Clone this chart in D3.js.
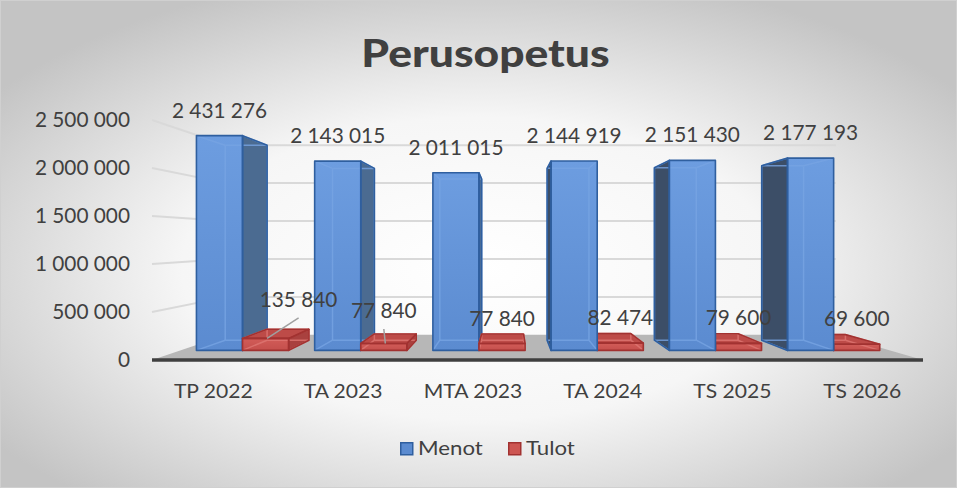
<!DOCTYPE html>
<html><head><meta charset="utf-8">
<script src="https://cdn.jsdelivr.net/npm/d3@7"></script>
<style>body{margin:0;background:#fff;} svg{display:block}</style>
</head><body><svg id="c" width="957" height="488"></svg>
<script>
// ---- data ----
const categories = ["TP 2022", "TA 2023", "MTA 2023", "TA 2024", "TS 2025", "TS 2026"];
const menot = [2431276, 2143015, 2011015, 2144919, 2151430, 2177193];
const tulot = [135840, 77840, 77840, 82474, 79600, 69600];
const seriesNames = ["Menot", "Tulot"];
const yTicks = [0, 500000, 1000000, 1500000, 2000000, 2500000];
const chartTitle = "Perusopetus";

// ---- layout ----
const W = 957, H = 488;
const FONT = "Lato, 'Open Sans', sans-serif";
const TXT = "#404040";
const floorL = 152, floorR = 923, baseY = 360, vx = 508, vy = 240;
const sBarF = 0.92, sBarB = 0.835, sWall = 0.79, sLabel = 1.01;

const svg = d3.select("#c");
const fmt = d3.formatLocale({decimal: ",", thousands: "\u00a0", grouping: [3], currency: ["", ""]}).format(",d");

const x = d3.scaleBand().domain(categories).range([floorL, floorR]);
const h = d3.scaleLinear().domain([0, 2500000]).range([0, 240]);
const yFront = d3.scaleLinear().domain([0, 2500000]).range([baseY, baseY - 240]);
function P(wx, v, s) { return [vx + (wx - vx) * s, vy + (baseY - h(v) - vy) * s]; }
const line = d3.line();
// widen letter text slightly (reference face is wider than Lato)
function widen(sel, k) {
  sel.each(function () {
    const L = this.getComputedTextLength();
    d3.select(this).attr("textLength", L * k).attr("lengthAdjust", "spacingAndGlyphs");
  });
}

// ---- background ----
const defs = svg.append("defs");
const rg = defs.append("radialGradient").attr("id", "bg").attr("cx", "50%").attr("cy", "55%").attr("r", "62%");
rg.append("stop").attr("offset", "0%").attr("stop-color", "#ffffff");
rg.append("stop").attr("offset", "50%").attr("stop-color", "#f6f6f6");
rg.append("stop").attr("offset", "100%").attr("stop-color", "#c4c4c4");
const bluG = defs.append("linearGradient").attr("id", "blueF").attr("x1", 0).attr("y1", 0).attr("x2", 0).attr("y2", 1);
bluG.append("stop").attr("offset", "0%").attr("stop-color", "#6d9de0");
bluG.append("stop").attr("offset", "100%").attr("stop-color", "#5b8bd0");
const redG = defs.append("linearGradient").attr("id", "redF").attr("x1", 0).attr("y1", 0).attr("x2", 0).attr("y2", 1);
redG.append("stop").attr("offset", "0%").attr("stop-color", "#d25c58");
redG.append("stop").attr("offset", "100%").attr("stop-color", "#c44f4c");

svg.append("rect").attr("width", W).attr("height", H).attr("fill", "url(#bg)");
svg.append("rect").attr("x", 0.5).attr("y", 0.5).attr("width", W - 1).attr("height", H - 1)
  .attr("fill", "none").attr("stroke", "#d0d0d0");

// ---- title ----
svg.append("text").attr("x", 485.5).attr("y", 67).attr("text-anchor", "middle")
  .attr("font-family", FONT).attr("font-weight", 900).attr("font-size", 37)
  .attr("fill", TXT).text(chartTitle).call(widen, 1.2);

// ---- walls / gridlines ----
const grid = svg.append("g").attr("stroke", "#d9d9d9").attr("stroke-width", 2).attr("fill", "none");
yTicks.filter(t => t > 0).forEach(t => {
  const fl = [floorL, yFront(t)], bl = P(floorL, t, sWall), br = P(floorR, t, sWall);
  grid.append("path").attr("d", line([fl, bl, br]));
});

// floor
svg.append("path").attr("fill", "#b7b7b7")
  .attr("d", line([P(floorL, 0, 1), P(floorR, 0, 1), P(floorR, 0, sWall), P(floorL, 0, sWall)]) + "Z");
svg.append("line").attr("x1", floorL).attr("x2", floorR).attr("y1", baseY).attr("y2", baseY)
  .attr("stroke", "#3f3f3f").attr("stroke-width", 3.5);

// ---- axis ----
const ax = svg.append("g").attr("transform", "translate(130,0)")
  .call(d3.axisLeft(yFront).tickValues(yTicks).tickSize(0).tickPadding(0).tickFormat(fmt));
ax.select(".domain").remove();
ax.selectAll("text").attr("font-family", FONT).attr("font-size", 20.8).attr("fill", TXT);

// ---- bars ----
const bw = x.bandwidth() * 0.39, off = x.bandwidth() * 0.135;
const styles = [
  {front: "url(#blueF)", right: "#4b6b91", left: "#3c4e67", top: "#5f8ed0", stroke: "#2f5f9f", inner: "#77a4e2"},
  {front: "url(#redF)", right: "#a9413f", left: "#9c3b39", top: "#bd4b48", stroke: "#a23231", inner: "#de7773"}
];
const boxes = [];
categories.forEach((c, i) => {
  [menot[i], tulot[i]].forEach((v, si) => {
    const x0 = x(c) + off + si * bw;
    boxes.push({i, si, v, x0, x1: x0 + bw});
  });
});
boxes.sort((a, b) => Math.abs((b.x0 + b.x1) / 2 - vx) - Math.abs((a.x0 + a.x1) / 2 - vx));

const barsG = svg.append("g");
boxes.forEach(b => {
  const st = styles[b.si];
  const fbl = P(b.x0, 0, sBarF), fbr = P(b.x1, 0, sBarF), ftl = P(b.x0, b.v, sBarF), ftr = P(b.x1, b.v, sBarF);
  const bbl = P(b.x0, 0, sBarB), bbr = P(b.x1, 0, sBarB), btl = P(b.x0, b.v, sBarB), btr = P(b.x1, b.v, sBarB);
  const g = barsG.append("g");
  const faces = [];
  if (b.x1 < vx) faces.push({pts: [fbr, ftr, btr, bbr], fill: st.right});
  if (b.x0 > vx) faces.push({pts: [fbl, ftl, btl, bbl], fill: st.left});
  if (baseY - h(b.v) > vy) faces.push({pts: [ftl, ftr, btr, btl], fill: st.top});
  const front = {pts: [fbl, fbr, ftr, ftl], fill: st.front};
  faces.forEach(f => g.append("path").attr("d", line(f.pts) + "Z").attr("fill", f.fill));
  g.append("path").attr("d", line(front.pts) + "Z").attr("fill", front.fill);
  // hidden edges seen through the translucent box
  const edges = [[bbl, bbr], [bbr, btr], [btr, btl], [btl, bbl], [fbl, bbl], [fbr, bbr], [ftl, btl], [ftr, btr]];
  edges.forEach(e => g.append("path").attr("d", line(e)).attr("stroke", st.inner)
    .attr("stroke-width", 1.5).attr("fill", "none").attr("opacity", 0.8));
  faces.concat([front]).forEach(f => g.append("path").attr("d", line(f.pts) + "Z").attr("fill", "none")
    .attr("stroke", st.stroke).attr("stroke-width", 1.6).attr("stroke-linejoin", "round"));
  b.cx = (fbl[0] + fbr[0]) / 2; b.top = ftl[1];
});

// ---- data labels ----
const nudges = {"0-1": [33, -13.5], "1-1": [0, -7.5]};
const lab = svg.append("g").attr("font-family", FONT).attr("font-size", 20.8).attr("fill", TXT).attr("text-anchor", "middle");
boxes.forEach(b => {
  const n = nudges[b.i + "-" + b.si] || [0, 0];
  const lx = b.cx + n[0], ly = b.top - 18 + n[1];
  if (n[0] || n[1]) {
    svg.append("line").attr("x1", lx).attr("y1", ly + 11).attr("x2", b.cx + 1.5).attr("y2", b.top)
      .attr("stroke", "#a0a0a0").attr("stroke-width", 1.5);
  }
  lab.append("text").attr("x", lx).attr("y", ly).text(fmt(b.v));
});

// ---- category labels ----
svg.append("g").selectAll("text").data(categories).join("text")
  .attr("x", c => vx + (x(c) + x.bandwidth() / 2 - vx) * sLabel).attr("y", 398)
  .attr("text-anchor", "middle").attr("font-family", FONT).attr("font-size", 19).attr("fill", TXT)
  .text(c => c).call(widen, 1.11);

// ---- legend ----
const lg = svg.append("g");
const legX = [400, 508];
seriesNames.forEach((s, k) => {
  lg.append("rect").attr("x", legX[k] + 0.75).attr("y", 442.75).attr("width", 12).attr("height", 12)
    .attr("fill", k === 0 ? "#5b8bd0" : "#cd5652").attr("stroke", k === 0 ? "#2f5f9f" : "#a23231").attr("stroke-width", 1.5);
  lg.append("text").attr("x", legX[k] + 18).attr("y", 455).attr("font-family", FONT).attr("font-size", 19)
    .attr("fill", TXT).text(s).call(widen, 1.17);
});
</script>
</body></html>
